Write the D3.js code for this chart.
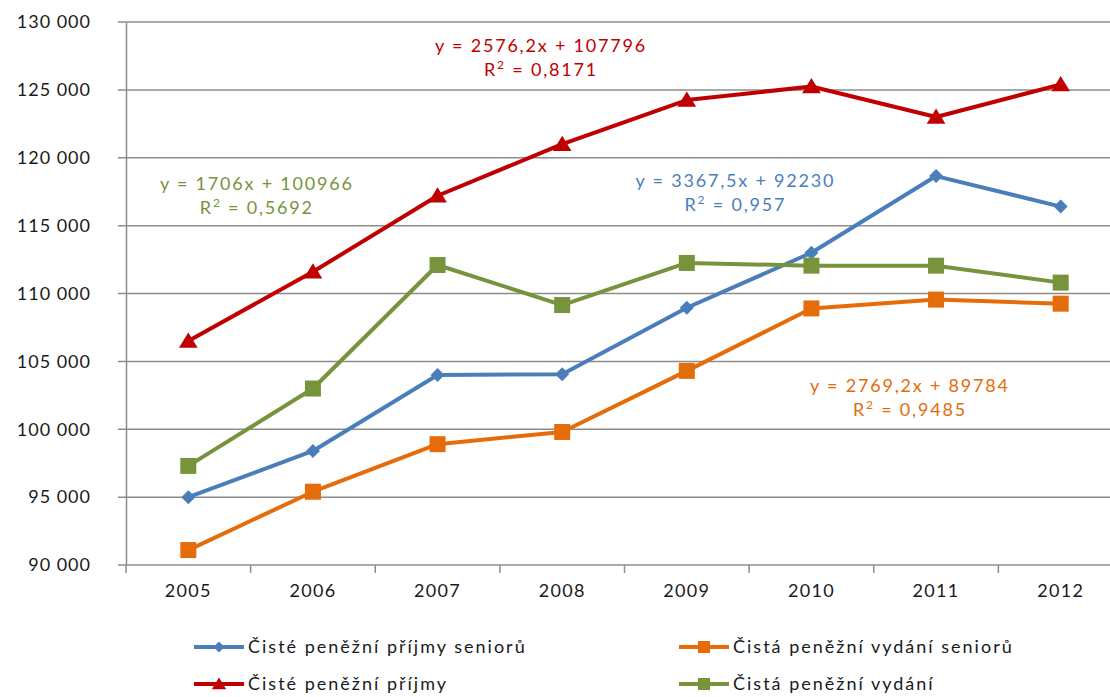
<!DOCTYPE html>
<html>
<head>
<meta charset="utf-8">
<script src="https://cdn.jsdelivr.net/npm/d3@7"></script>
<style>
  body { margin: 0; background: #fff; }
  svg text { font-family: Lato, "Open Sans", sans-serif; }
</style>
</head>
<body>
<script>
"use strict";
// data
const years = ["2005", "2006", "2007", "2008", "2009", "2010", "2011", "2012"]
const prijmySenioru = [95000, 98400, 104000, 104050, 108950, 113000, 118650, 116400]
const vydaniSenioru = [91100, 95400, 98900, 99800, 104300, 108900, 109550, 109250]
const prijmy = [106500, 111600, 117200, 121000, 124250, 125250, 123000, 125400]
const vydani = [97300, 103000, 112100, 109150, 112250, 112050, 112050, 110800]
const seriesNames = ["Čisté peněžní příjmy seniorů", "Čistá peněžní vydání seniorů", "Čisté peněžní příjmy", "Čistá peněžní vydání"]
const trendEq = ["y = 3367,5x + 92230", "y = 2769,2x + 89784", "y = 2576,2x + 107796", "y = 1706x + 100966"]
const trendR2 = ["0,957", "0,9485", "0,8171", "0,5692"]
const yTicks = [90000, 95000, 100000, 105000, 110000, 115000, 120000, 125000, 130000]

const colors = ["#4a7ebb", "#e46c0a", "#c00000", "#77933c"]
const shapes = ["diamond", "square", "triangle", "square"]

let m = { width: 1110, height: 697, left: 126, top: 22, right: 1123, bottom: 565 }

const svg = d3.select("body").append("svg")
    .attr("width", m.width)
    .attr("height", m.height)

let x = d3.scaleBand().domain(years).range([m.left, m.right])
let y = d3.scaleLinear().domain([90000, 130000]).range([m.bottom, m.top])

let fmt = d => d3.format(",")(d).replace(/,/g, " ")

// gridlines
svg.append("g").selectAll("line")
  .data(yTicks)
  .enter().append("line")
    .attr("x1", m.left - 8).attr("x2", m.right)
    .attr("y1", d => y(d)).attr("y2", d => y(d))
    .attr("stroke", "#8c8c8c")
    .attr("stroke-width", 1.5)

// y axis
let yAxis = svg.append("g")
    .attr("transform", `translate(${m.left},0)`)
    .call(d3.axisLeft(y).tickValues(yTicks).tickFormat(fmt).tickSize(0).tickPadding(35))
yAxis.select(".domain").attr("stroke", "#8c8c8c").attr("stroke-width", 1.5)
yAxis.selectAll("text")
    .attr("font-size", "18px")
    .attr("letter-spacing", "1px")
    .attr("fill", "#1a1a1a")

// x axis
let xAxis = svg.append("g")
    .attr("transform", `translate(0,${m.bottom})`)
    .call(d3.axisBottom(x).tickSize(0).tickPadding(19))
xAxis.select(".domain").remove()
xAxis.selectAll("text")
    .attr("font-size", "18px")
    .attr("letter-spacing", "1.3px")
    .attr("fill", "#1a1a1a")
svg.append("g").selectAll("line")
  .data(years.concat(["end"]))
  .enter().append("line")
    .attr("x1", (d, i) => m.left + i * x.step()).attr("x2", (d, i) => m.left + i * x.step())
    .attr("y1", m.bottom).attr("y2", m.bottom + 8)
    .attr("stroke", "#8c8c8c")
    .attr("stroke-width", 1.5)

function markerPath(shape, s) {
  if (shape == "diamond") return `M0,${-s}L${s},0L0,${s}L${-s},0Z`
  if (shape == "triangle") return `M0,${-s}L${s * 1.1},${s * 0.8}L${-s * 1.1},${s * 0.8}Z`
  return `M${-s},${-s}H${s}V${s}H${-s}Z`
}

let allSeries = [prijmySenioru, vydaniSenioru, prijmy, vydani]
let line = d3.line()
    .x((d, i) => x(years[i]) + x.bandwidth() / 2)
    .y(d => y(d))

let markSize = { diamond: 7, triangle: 8.5, square: 8 }
let drawOrder = [0, 1, 2, 3]
drawOrder.forEach(function(k) {
  let g = svg.append("g")
  g.append("path")
      .datum(allSeries[k])
      .attr("d", line)
      .attr("fill", "none")
      .attr("stroke", colors[k])
      .attr("stroke-width", 4)
      .attr("stroke-linejoin", "round")
  g.selectAll(".mark")
    .data(allSeries[k])
    .enter().append("path")
      .attr("d", markerPath(shapes[k], markSize[shapes[k]]))
      .attr("transform", (d, i) => `translate(${x(years[i]) + x.bandwidth() / 2},${y(d)})`)
      .attr("fill", colors[k])
})

// trendline equations (anchor: position in category steps, value on y axis)
let eqAnchor = [[4.89, 117850], [6.29, 102750], [3.33, 127800], [1.05, 117630]]
eqAnchor.forEach(function(a, k) {
  let cx = m.left + a[0] * x.step()
  let t = svg.append("text")
      .attr("x", cx).attr("y", y(a[1]))
      .attr("text-anchor", "middle")
      .attr("font-size", "18px")
      .attr("letter-spacing", "1.8px")
      .attr("fill", colors[k])
  t.append("tspan").attr("x", cx).text(trendEq[k])
  let t2 = t.append("tspan").attr("x", cx).attr("dy", 24).text("R")
  t2.append("tspan").attr("font-size", "12px").attr("dy", -7).text("2")
  t.append("tspan").attr("dy", 7).text(" = " + trendR2[k])
})

// legend
let legendPos = [[194, 647], [679, 647], [194, 684], [679, 684]]
let legendMark = { diamond: 5.5, triangle: 6.5, square: 6 }
seriesNames.forEach(function(name, k) {
  let lg = svg.append("g").attr("transform", `translate(${legendPos[k][0]},${legendPos[k][1]})`)
  lg.append("line")
      .attr("x1", 0).attr("x2", 50)
      .attr("stroke", colors[k]).attr("stroke-width", 4)
  lg.append("path")
      .attr("d", markerPath(shapes[k], legendMark[shapes[k]]))
      .attr("transform", "translate(25,0)")
      .attr("fill", colors[k])
  lg.append("text")
      .attr("x", 54).attr("y", 6)
      .attr("font-size", "18px")
      .attr("letter-spacing", "2px")
      .attr("fill", "#1a1a1a")
      .text(name)
})
</script>
</body>
</html>
